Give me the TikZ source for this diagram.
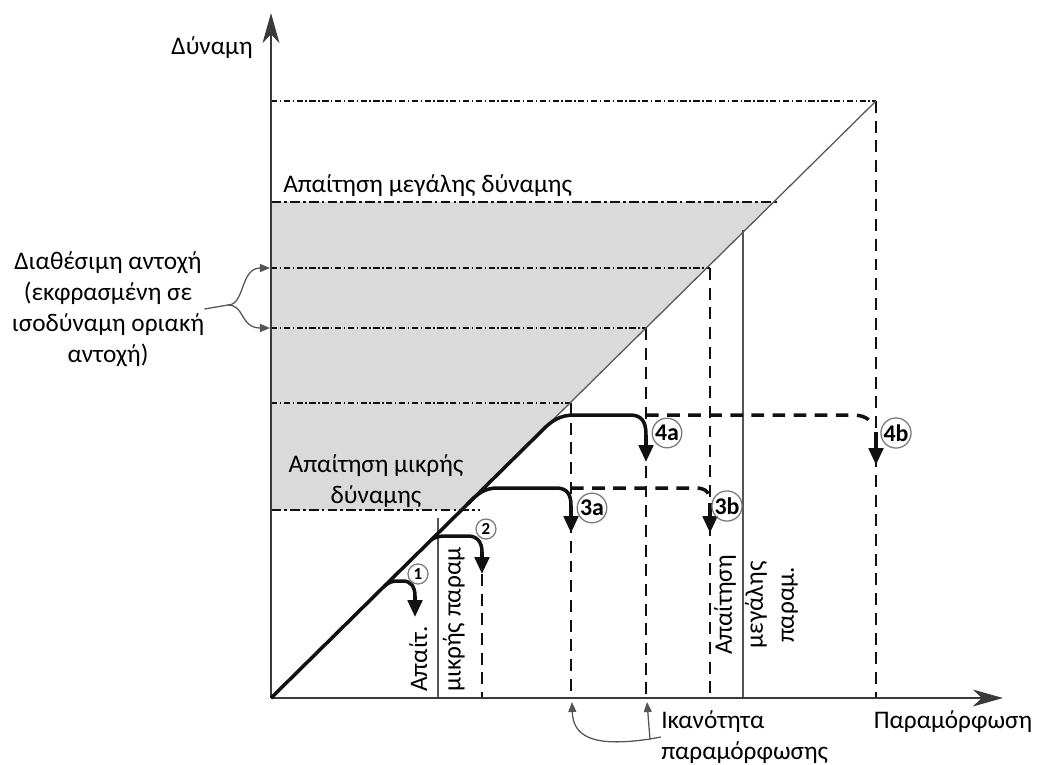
\documentclass[tikz,border=0pt]{standalone}
\usepackage{fontspec}
\setmainfont{Carlito}
\usetikzlibrary{arrows.meta,positioning}
\definecolor{Ink}{HTML}{111111}
\definecolor{AxisGray}{HTML}{3A3A3A}
\definecolor{LineGray}{HTML}{555555}
\definecolor{Shade}{HTML}{DADADA}
\definecolor{RingGray}{HTML}{7A7A7A}
\tikzset{
  axisline/.style={line width=2pt, draw=AxisGray, -{Stealth[length=7.5mm,width=4.2mm,inset=2.2mm]}},
  diagline/.style={line width=0.9pt, draw=LineGray},
  levelline/.style={line width=1pt, draw=Ink, dash pattern=on 4.5pt off 1.8pt on 1pt off 1.8pt},
  boundline/.style={line width=1.8pt, draw=Ink, dash pattern=on 7pt off 2.2pt on 2pt off 2.2pt},
  dropline/.style={line width=1.3pt, draw=Ink, dash pattern=on 8.5pt off 5.5pt},
  demandline/.style={line width=1.5pt, draw=LineGray},
  response/.style={line width=2.5pt, draw=Ink},
  softresponse/.style={response, dash pattern=on 9pt off 6pt},
  tip/.style={-{Triangle[length=4.2mm,width=3.6mm]}},
  ring/.style={circle, draw=RingGray, line width=0.9pt, minimum size=0.74cm,
    inner sep=0pt, font=\bfseries\fontsize{17}{17}\selectfont},
  smallring/.style={ring, minimum size=0.5cm, font=\bfseries\fontsize{12}{12}\selectfont},
  caption/.style={font=\fontsize{18}{22}\selectfont, inner sep=0pt},
  pointer/.style={line width=0.9pt, draw=LineGray, -{Triangle[length=2.5mm,width=2mm]}}
}

\begin{document}
\begin{tikzpicture}[x=0.025cm,y=-0.025cm]
  \useasboundingbox (0,0) rectangle (1042,765);
  % shaded band between the two demand levels
  \fill[Shade] (271,202) -- (773.6,202) -- (461.5,510) -- (271,510) -- cycle;
  \coordinate (O) at (271,698);
  \coordinate (ytip) at (271,13);
  \coordinate (xtip) at (1003,698);
  \coordinate (top) at (876,101);
  % strength levels
  \draw[levelline] (271,101) -- (top);
  \draw[boundline] (271,202) -- (777,202);
  \draw[levelline] (271,268) -- (710,268);
  \draw[levelline] (271,328) -- (646,328);
  \draw[levelline] (271,403) -- (571,403);
  \draw[boundline] (271,510) -- (480,510);
  % deformation drops
  \draw[dropline] (top) -- (876,698);
  \draw[dropline] (710,268) -- (710,698);
  \draw[dropline] (646,328) -- (646,698);
  \draw[dropline] (571,403) -- (571,698);
  \draw[dropline] (482,574) -- (482,698);
  \draw[demandline] (743,230) -- (743,698);
  \draw[demandline] (438,518) -- (438,698);
  \draw[diagline] (O) -- (top);
  % axes
  \draw[axisline] (O) -- (ytip);
  \draw[axisline] (O) -- (xtip);
  % responses
  \draw[response,tip] (384.5,586) .. controls (389,582) and (393,581) .. (398,581)
    -- (403,581) .. controls (411,581) and (415,587) .. (415,596) -- (415,617);
  \draw[response,tip] (431,540) .. controls (435,537) and (440,536) .. (446,536)
    -- (468,536) .. controls (477,536) and (482,542) .. (482,552) -- (482,574);
  \draw[response,tip] (467.6,504) .. controls (478,493) and (485,488) .. (498,488)
    -- (556,488) .. controls (567,488) and (571,494) .. (571,506) -- (571,533);
  \draw[softresponse] (571,488) -- (696,488) .. controls (704,488) and (708,491) .. (709,496);
  \draw[response,tip] (710,503) -- (710,533);
  \draw[response,tip] (O) -- (539.6,433) .. controls (552,420) and (560,415) .. (575,415)
    -- (630,415) .. controls (642,415) and (646,422) .. (646,435) -- (646,462);
  \draw[softresponse] (646,415) -- (852,415) .. controls (864,415) and (870,419) .. (873,426);
  \draw[response,tip] (876,432) -- (876,465);
  % markers
  \node[smallring] (r1) at (418,574) {1};
  \node[smallring] (r2) at (486,529) {2};
  \node[ring] (r3a) at (592,508) {3a};
  \node[ring] (r3b) at (727,506) {3b};
  \node[ring] (r4a) at (667,433) {4a};
  \node[ring] (r4b) at (896,433) {4b};
  % labels
  \node[caption,anchor=east] (force) at (253,48) {Δύναμη};
  \node[caption] (deform) at (953,722) {Παραμόρφωση};
  \node[caption,anchor=west] (highF) at (283,186) {Απαίτηση μεγάλης δύναμης};
  \node[caption,align=center] (lowF) at (376,481) {Απαίτηση μικρής\\δύναμης};
  \node[caption,align=center] (avail) at (108,309)
    {Διαθέσιμη αντοχή\\(εκφρασμένη σε\\ισοδύναμη οριακή\\αντοχή)};
  \node[caption,rotate=90,anchor=west,align=left] (lowD) at (437,692)
    {Απαίτ.\\[2pt]μικρής παραμ};
  \node[caption,rotate=90,align=center] (highD) at (756,605)
    {Απαίτηση\\μεγάλης\\παραμ.};
  \node[caption,anchor=west,align=left] (capacity) at (661,737)
    {Ικανότητα\\παραμόρφωσης};
  % pointers
  \coordinate (fork) at (228,305);
  \coordinate (ra) at (270,268);
  \coordinate (rb) at (270,328);
  \draw[diagline] (avail.east) -- (fork);
  \draw[pointer] (fork) .. controls (245,305) and (240,268) .. (ra);
  \draw[pointer] (fork) .. controls (245,305) and (240,328) .. (rb);
  \coordinate (capfork) at (650,739);
  \draw[diagline] (capacity.west) -- (capfork);
  \draw[pointer] (capfork) -- (647,702);
  \draw[pointer] (capfork) .. controls (590,748) and (573,735) .. (572,702);
\end{tikzpicture}
\end{document}
